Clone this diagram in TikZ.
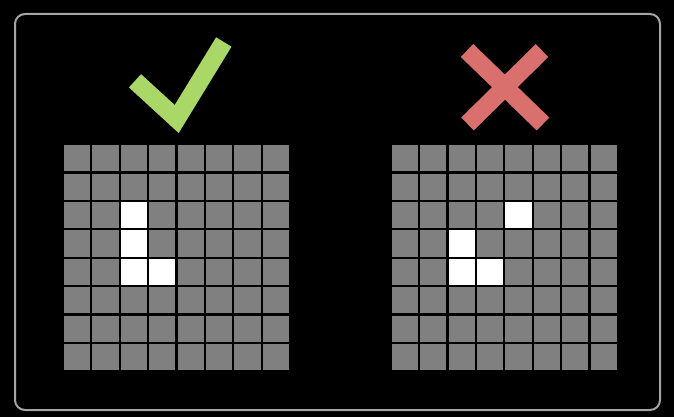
\documentclass[tikz,border=0pt]{standalone}
\usepackage{tikz}
\definecolor{tickgreen}{RGB}{170,216,104}
\definecolor{crossred}{RGB}{218,112,110}
\definecolor{cellgray}{RGB}{128,128,128}
\definecolor{framegray}{RGB}{165,165,165}

\begin{document}
\begin{tikzpicture}[x=1pt,y=-1pt,
    cell/.style={fill=cellgray,inner sep=0pt,minimum size=26.2pt},
    lit/.style={fill=white,inner sep=0pt,minimum size=26.2pt},
    symbol/.style={line width=18pt}]
\fill[black] (0,0) rectangle (674,417);
\draw[framegray,line width=2pt,rounded corners=10pt] (15,14) rectangle (660,410);
        \foreach \x in {0,...,7}{
        \foreach \y in {0,...,7}{
\node[cell] (l\x\y) at (77.1+28.4*\x,158.3+28.4*\y) {};
\node[cell] (r\x\y) at (404.8+28.4*\x,158.3+28.4*\y) {};
}}
% pixels that are on
\foreach \x/\y in {2/2,2/3,2/4,3/4}
{
\node[lit] (lon\x\y) at (l\x\y) {};
}
\foreach \x/\y in {4/2,2/3,2/4,3/4}
{
\node[lit] (ron\x\y) at (r\x\y) {};
}
% good and bad
\draw[symbol,tickgreen] (135,80.8) -- (176.7,119) -- (223.8,42);
\draw[symbol,crossred] (467,50.5) -- (543,124) (542,50.5) -- (467.5,124);
    \end{tikzpicture}
\end{document}
